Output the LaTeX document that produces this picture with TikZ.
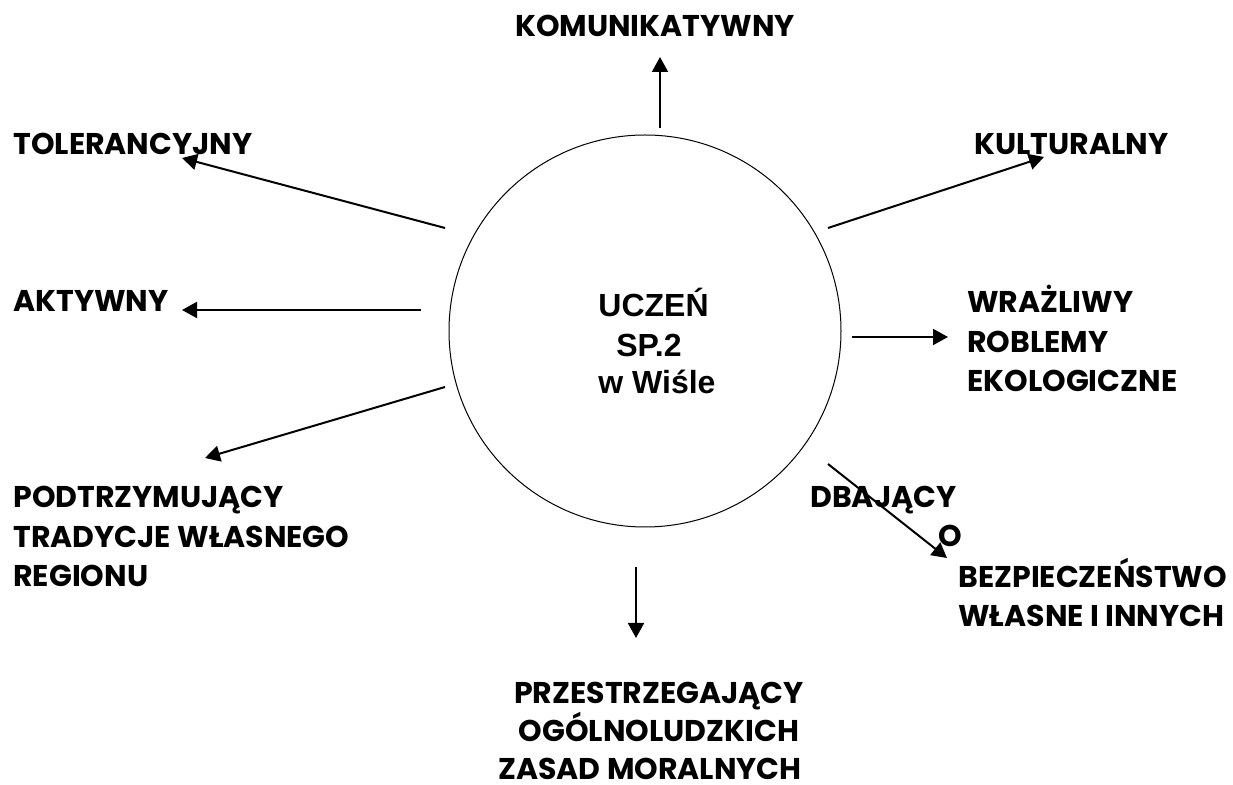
\documentclass[tikz,border=0pt]{standalone}
\usepackage{fontspec}
\newfontfamily\arialb{Liberation Sans}[UprightFont={* Bold}]
\newfontfamily\gothic{Poppins}[UprightFont={* Bold}]
\usetikzlibrary{arrows.meta}
\tikzset{%
  outarrow/.style = {-{Triangle[length=7.5pt,width=8pt]},line width=1pt},
  trait/.style = {anchor=base west,inner sep=0pt,
        font=\gothic\fontsize{15}{19}\selectfont},
  traitc/.style = {trait,anchor=base},
  centre/.style = {anchor=base west,inner sep=0pt,
        font=\arialb\fontsize{16}{19}\selectfont}
}

\begin{document}
\begin{tikzpicture}[x=0.5pt,y=-0.5pt]
    \useasboundingbox (0,0) rectangle (1233,785);
    % circle in the middle
    \node[circle,draw,line width=0.5pt,minimum size=196pt,inner sep=0pt] (uczen) at (645,331) {};
    \node[centre] (u1) at (598,317) {UCZEŃ};
    \node[centre] (u2) at (616,357) {SP.2};
    \node[centre] (u3) at (598,394) {w Wiśle};
    % traits
    \node[traitc] (kom) at (655,37) {KOMUNIKATYWNY};
    \node[trait] (tol) at (13,155) {TOLERANCYJNY};
    \node[trait] (kul) at (974,155) {KULTURALNY};
    \node[trait] (akt) at (13,312) {AKTYWNY};
    \node[trait] (wra1) at (967,313) {WRAŻLIWY};
    \node[trait] (wra2) at (967,353) {ROBLEMY};
    \node[trait] (wra3) at (967,392) {EKOLOGICZNE};
    \node[trait] (pod1) at (13,508) {PODTRZYMUJĄCY};
    \node[trait] (pod2) at (13,548) {TRADYCJE WŁASNEGO};
    \node[trait] (pod3) at (13,587) {REGIONU};
    \node[trait] (dba1) at (810,508) {DBAJĄCY};
    \node[trait] (dba2) at (938,547) {O};
    \node[trait] (dba3) at (958,588) {BEZPIECZEŃSTWO};
    \node[trait] (dba4) at (958,627) {WŁASNE I INNYCH};
    \node[traitc] (prz1) at (659,704) {PRZESTRZEGAJĄCY};
    \node[traitc] (prz2) at (659,742) {OGÓLNOLUDZKICH};
    \node[traitc] (prz3) at (650,780) {ZASAD MORALNYCH};
    % arrow ends
    \coordinate (kom-s) at (660,128);  \coordinate (kom-e) at (660,57);
    \coordinate (tol-s) at (445,228);  \coordinate (tol-e) at (182,158);
    \coordinate (kul-s) at (828,228);  \coordinate (kul-e) at (1044,157);
    \coordinate (akt-s) at (421,310);  \coordinate (akt-e) at (182,310);
    \coordinate (wra-s) at (852,337);  \coordinate (wra-e) at (948,337);
    \coordinate (pod-s) at (445,387);  \coordinate (pod-e) at (205,458);
    \coordinate (dba-s) at (828,464);  \coordinate (dba-e) at (947,558);
    \coordinate (prz-s) at (636,567);  \coordinate (prz-e) at (636,638);
    \foreach \n in {kom,tol,kul,akt,wra,pod,dba,prz}
        \draw[outarrow] (\n-s) -- (\n-e);
\end{tikzpicture}
\end{document}
